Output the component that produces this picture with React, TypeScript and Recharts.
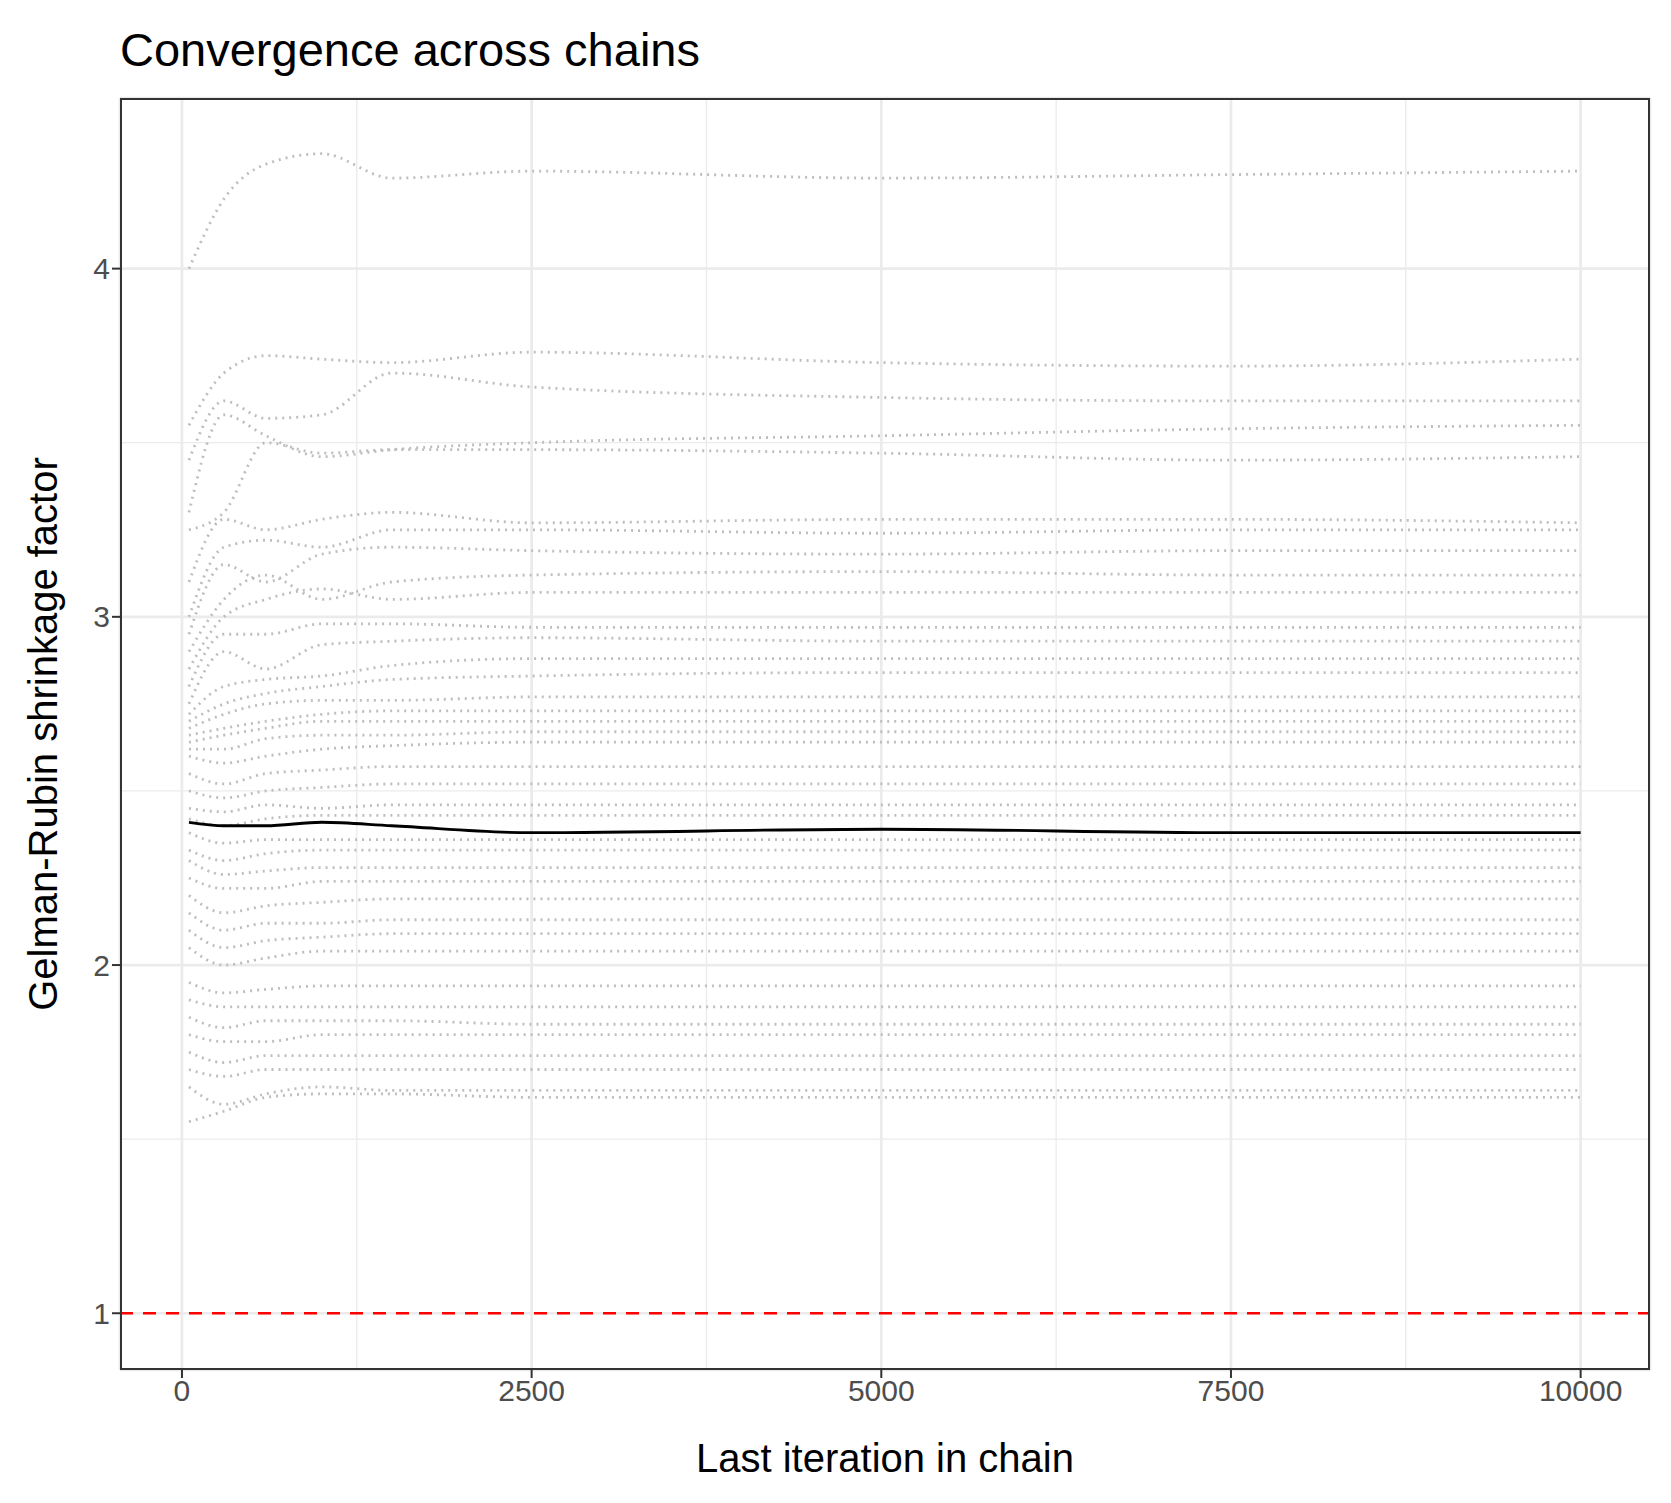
import React from 'react';
import { ComposedChart, Line, XAxis, YAxis, CartesianGrid, ReferenceLine } from 'recharts';

const iterations = [50, 300, 600, 1000, 1500, 2500, 5000, 7500, 10000];
const chainFactors: number[][] = [
  [4.00,4.20,4.30,4.33,4.26,4.28,4.26,4.27,4.28],
  [3.55,3.70,3.75,3.74,3.73,3.76,3.73,3.72,3.74],
  [3.45,3.62,3.57,3.58,3.70,3.66,3.63,3.62,3.62],
  [3.30,3.58,3.52,3.46,3.48,3.50,3.52,3.54,3.55],
  [3.25,3.30,3.50,3.47,3.48,3.48,3.47,3.45,3.46],
  [3.10,3.28,3.25,3.28,3.30,3.27,3.28,3.28,3.27],
  [3.00,3.20,3.22,3.20,3.25,3.25,3.24,3.25,3.25],
  [2.95,3.15,3.10,3.18,3.20,3.19,3.18,3.19,3.19],
  [2.90,3.05,3.12,3.05,3.10,3.12,3.13,3.12,3.12],
  [2.85,3.00,3.05,3.08,3.05,3.07,3.07,3.07,3.07],
  [2.80,2.95,2.95,2.98,2.98,2.97,2.97,2.97,2.97],
  [2.75,2.90,2.85,2.92,2.93,2.94,2.93,2.93,2.93],
  [2.72,2.80,2.82,2.83,2.86,2.88,2.88,2.88,2.88],
  [2.70,2.75,2.78,2.80,2.82,2.83,2.84,2.84,2.84],
  [2.68,2.72,2.75,2.76,2.76,2.77,2.77,2.77,2.77],
  [2.66,2.68,2.70,2.72,2.73,2.73,2.73,2.73,2.73],
  [2.64,2.66,2.68,2.70,2.70,2.70,2.70,2.70,2.70],
  [2.62,2.62,2.65,2.66,2.66,2.67,2.67,2.67,2.67],
  [2.60,2.58,2.60,2.62,2.63,2.64,2.64,2.64,2.64],
  [2.55,2.52,2.55,2.56,2.57,2.57,2.57,2.57,2.57],
  [2.50,2.48,2.50,2.51,2.52,2.52,2.52,2.52,2.52],
  [2.45,2.44,2.46,2.45,2.46,2.46,2.46,2.46,2.46],
  [2.42,2.40,2.42,2.43,2.43,2.43,2.43,2.43,2.43],
  [2.38,2.35,2.36,2.36,2.36,2.36,2.36,2.36,2.36],
  [2.33,2.30,2.32,2.33,2.33,2.33,2.33,2.33,2.33],
  [2.30,2.26,2.27,2.28,2.28,2.28,2.28,2.28,2.28],
  [2.25,2.22,2.22,2.24,2.24,2.24,2.24,2.24,2.24],
  [2.20,2.15,2.17,2.18,2.19,2.19,2.19,2.19,2.19],
  [2.15,2.10,2.12,2.12,2.13,2.13,2.13,2.13,2.13],
  [2.10,2.05,2.07,2.08,2.09,2.09,2.09,2.09,2.09],
  [2.05,2.00,2.02,2.04,2.04,2.04,2.04,2.04,2.04],
  [1.95,1.92,1.93,1.94,1.94,1.94,1.94,1.94,1.94],
  [1.90,1.88,1.88,1.88,1.88,1.88,1.88,1.88,1.88],
  [1.85,1.82,1.84,1.84,1.84,1.83,1.83,1.83,1.83],
  [1.80,1.78,1.78,1.80,1.80,1.80,1.80,1.80,1.80],
  [1.75,1.72,1.74,1.74,1.74,1.74,1.74,1.74,1.74],
  [1.70,1.68,1.70,1.70,1.70,1.70,1.70,1.70,1.70],
  [1.65,1.60,1.63,1.65,1.64,1.64,1.64,1.64,1.64],
  [1.55,1.58,1.62,1.63,1.63,1.62,1.62,1.62,1.62],
];
const meanFactor = [2.41,2.40,2.40,2.41,2.40,2.38,2.39,2.38,2.38];
const xTicks = [0, 2500, 5000, 7500, 10000];
const yTicks = [1, 2, 3, 4];
const xMinor = [1250, 3750, 6250, 8750];
const yMinor = [1.5, 2.5, 3.5];

const data = iterations.map((it, i) => {
  const row: any = { it, mean: meanFactor[i] };
  chainFactors.forEach((c, j) => { row['s' + j] = c[i]; });
  return row;
});

const font = '"Liberation Sans", Arial, sans-serif';
const L = 112, T = 90, R = 1642, B = 1362, W = 1655, H = 1487;

export default function App() {
  return (
    <div style={{ position: 'relative', width: W, height: H, fontFamily: font }}>
      <ComposedChart width={W} height={H} data={data}
        margin={{ top: T, right: W - R, bottom: H - B - 60, left: L - 60 }}>
        <CartesianGrid stroke="#ebebeb" strokeWidth={2.7} />
        {xMinor.map(v => <ReferenceLine key={'x'+v} x={v} stroke="#ebebeb" strokeWidth={1.3} />)}
        {yMinor.map(v => <ReferenceLine key={'y'+v} y={v} stroke="#ebebeb" strokeWidth={1.3} />)}
        <XAxis dataKey="it" type="number" domain={[-443, 10496]} ticks={xTicks} height={60}
          allowDataOverflow tickLine={{ stroke: '#333', strokeWidth: 2 }} axisLine={false}
          tick={{ fill: '#4d4d4d', fontSize: 30, fontFamily: font }} tickSize={8} />
        <YAxis type="number" domain={[0.837, 4.49]} ticks={yTicks} width={60} allowDataOverflow
          tickLine={{ stroke: '#333', strokeWidth: 2 }} axisLine={false}
          tick={{ fill: '#4d4d4d', fontSize: 30, fontFamily: font }} tickSize={8} />
        {chainFactors.map((_, j) => (
          <Line key={j} dataKey={'s' + j} type="monotone" stroke="#bebebe" strokeWidth={2.8}
            strokeDasharray="2 5" dot={false} isAnimationActive={false} />
        ))}
        <Line dataKey="mean" type="monotone" stroke="#000" strokeWidth={2.8} dot={false} isAnimationActive={false} />
        <ReferenceLine y={1} stroke="#ff0000" strokeWidth={2.7} strokeDasharray="13 10" />
      </ComposedChart>
      <div style={{ position: 'absolute', left: L, top: T, width: R - L - 4, height: B - T - 4, border: '2px solid #333', pointerEvents: 'none' }} />
      <div style={{ position: 'absolute', left: L, top: 14, fontSize: 47, color: '#000' }}>Convergence across chains</div>
      <div style={{ position: 'absolute', left: L, width: R - L, top: 1428, textAlign: 'center', fontSize: 40 }}>Last iteration in chain</div>
      <div style={{ position: 'absolute', left: 35, top: (T + B) / 2, width: 0, height: 0 }}>
        <div style={{ position: 'absolute', transform: 'translate(-50%,-50%) rotate(-90deg)', whiteSpace: 'nowrap', fontSize: 40 }}>Gelman-Rubin shrinkage factor</div>
      </div>
    </div>
  );
}
